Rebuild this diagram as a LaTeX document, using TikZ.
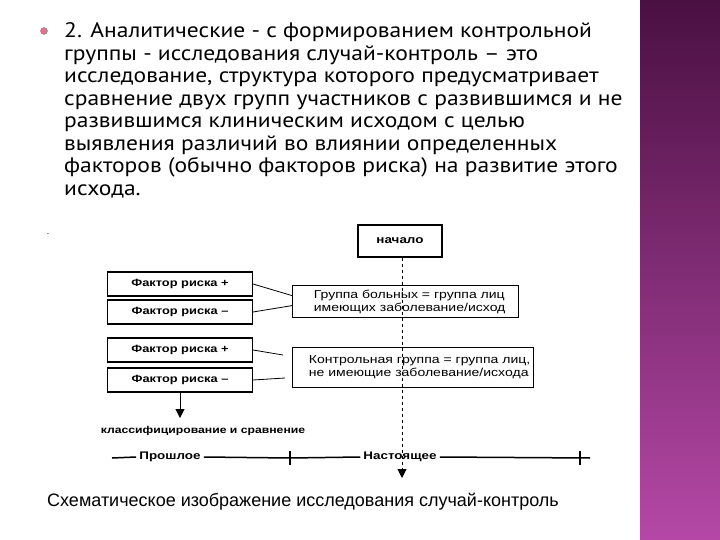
\documentclass[tikz,border=0pt]{standalone}
\usepackage{fontspec}
\setmainfont{PT Sans}
\newfontfamily\bodyfont[FakeStretch=1.12]{PT Sans}
\newfontfamily\arial{Liberation Sans}
\newfontfamily\diag[FakeStretch=1.22]{Liberation Sans}
\usetikzlibrary{arrows.meta}
\definecolor{ptop}{HTML}{4A1042}
\definecolor{pbot}{HTML}{B548A6}
\begin{document}
\begin{tikzpicture}[x=1pt,y=-1pt,
  bodytext/.style={anchor=base west,inner sep=0,font=\bodyfont\fontsize{21}{22}\selectfont},
  fbox/.style={draw,line width=1.2pt,minimum width=145pt,minimum height=24pt,font=\diag\bfseries\fontsize{10.5}{11}\selectfont,inner sep=0},
  gbox/.style={draw,line width=1.2pt,align=left,font=\diag\fontsize{11.5}{13}\selectfont,inner sep=0,anchor=north west},
  conn/.style={line width=0.8pt}]
\useasboundingbox (0,0) rectangle (720,540);
\fill[white] (0,0) rectangle (720,540);
\shade[top color=ptop,bottom color=pbot] (640,0) rectangle (720,540);
\node[circle,draw=gray,fill=pink!60!purple,minimum size=7pt,inner sep=0] (bul) at (44,31) {};
\node[bodytext] (l1) at (64,38) {2. Аналитические - с формированием контрольной};
\node[bodytext] (l2) at (64,60.5) {группы - исследования случай-контроль – это};
\node[bodytext] (l3) at (64,83) {исследование, структура которого предусматривает};
\node[bodytext] (l4) at (64,105.5) {сравнение двух групп участников с развившимся и не};
\node[bodytext] (l5) at (64,128) {развившимся клиническим исходом с целью};
\node[bodytext] (l6) at (64,150.5) {выявления различий во влиянии определенных};
\node[bodytext] (l7) at (64,173) {факторов (обычно факторов риска) на развитие этого};
\node[bodytext] (l8) at (64,195.5) {исхода.};
\node[anchor=base,inner sep=0,font=\small] (dot) at (48,234) {.};
% diagram
\node[draw,line width=1.2pt,minimum width=84pt,minimum height=32pt,font=\diag\bfseries\fontsize{11}{12}\selectfont,inner sep=0] (start) at (400,241) {начало};
\node[fbox] (f1) at (180,284) {Фактор риска +};
\node[fbox] (f2) at (180,312) {Фактор риска –};
\node[fbox] (f3) at (180,350) {Фактор риска +};
\node[fbox] (f4) at (180,380) {Фактор риска –};
\node[gbox,minimum width=226pt,minimum height=32pt] (g1) at (292,285) {\hspace{8pt}Группа больных = группа лиц\\\hspace{8pt}имеющих заболевание/исход};
\node[gbox,minimum width=241pt,minimum height=40pt] (g2) at (292,347) {\hspace{13pt}Контрольная группа = группа лиц,\\\hspace{13pt}не имеющие заболевание/исхода};
\draw[conn] (f1.east) -- ([yshift=6pt]g1.west);
\draw[conn] (f2.east) -- ([yshift=-4pt]g1.west);
\coordinate (c3) at (283,355);
\coordinate (c4) at (285,378);
\draw[conn] (f3.east) -- (c3);
\draw[conn] (f4.east) -- (c4);
\coordinate (cls) at (180,418);
\draw[line width=1pt,-{Triangle[width=9pt,length=9pt]}] (f4.south) -- (cls);
\node[anchor=north,inner sep=1pt,font=\diag\bfseries\fontsize{10}{11}\selectfont] (clt) at (203,425) {классифицирование и сравнение};
% timeline
\node[inner sep=3pt,font=\diag\bfseries\fontsize{11}{12}\selectfont] (past) at (170,457) {Прошлое};
\node[inner sep=3pt,font=\diag\bfseries\fontsize{11}{12}\selectfont] (now) at (400,457) {Настоящее};
\coordinate (t0) at (112,458);
\coordinate (t1) at (290,458);
\coordinate (t2) at (590,458);
\draw[line width=1.5pt] (t0) -- (past.west);
\draw[line width=1.5pt] (past.east) -- (t1) -- (now.west);
\draw[line width=1.5pt] (now.east) -- (t2);
\draw[line width=1.5pt] (290,451) -- (290,465);
\draw[line width=1.5pt] (580,451) -- (580,465);
\coordinate (endar) at (402,478);
\draw[line width=1pt,dashed,-{Triangle[width=9pt,length=9pt]}] (start.south -| endar) -- (endar);
\node[anchor=base west,inner sep=0,font=\arial\fontsize{18}{20}\selectfont] (cap) at (47,506) {Схематическое изображение исследования случай-контроль};
\end{tikzpicture}
\end{document}
